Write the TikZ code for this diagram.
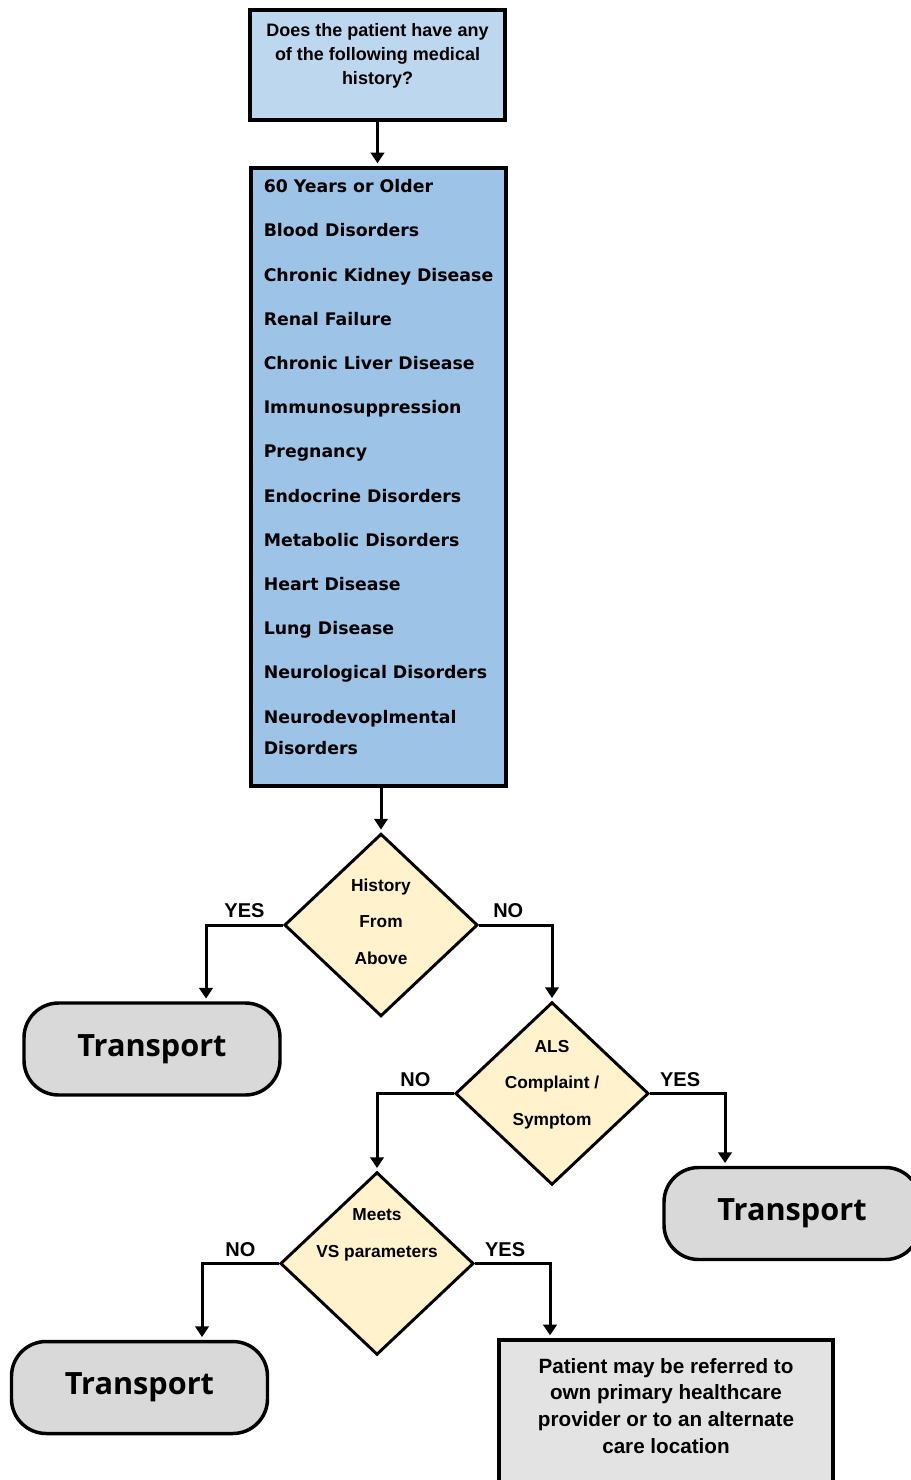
\documentclass[tikz,border=0pt]{standalone}
\usepackage{fontspec}
\setmainfont{Liberation Sans}
\newfontfamily\listfont{DejaVu Sans}
\newfontfamily\endfont{Open Sans}
\usetikzlibrary{positioning,shapes.geometric,arrows.meta}

\definecolor{qblue}{HTML}{BDD7EE}
\definecolor{listblue}{HTML}{9DC3E6}
\definecolor{decyellow}{HTML}{FFF2CC}
\definecolor{endgray}{HTML}{D9D9D9}
\definecolor{refgray}{HTML}{E3E3E3}

\begin{document}
\begin{tikzpicture}[x=0.75pt, y=-0.75pt,
question/.style = {draw, line width=3pt, fill=qblue, minimum width=191pt, inner ysep=0pt, text height=55.9pt, text depth=26.6pt, align=center, font=\fontsize{13.5pt}{18pt}\selectfont\bfseries},
history/.style = {draw, line width=3pt, fill=listblue, minimum width=191pt, inner ysep=0pt, text height=439.5pt, text depth=24pt, align=left, font=\listfont\fontsize{13pt}{33.15pt}\selectfont\bfseries},
decision/.style = {draw, shape = diamond, line width=2.2pt, fill=decyellow, minimum width=145pt, minimum height=137pt, inner sep=0pt},
dtext/.style = {align=center, inner sep=0pt, font=\fontsize{13pt}{27.4pt}\selectfont\bfseries},
terminal/.style = {draw, shape = rectangle, rounded corners=26pt, line width=2.6pt, fill=endgray, minimum width=192pt, minimum height=69pt, font=\endfont\fontsize{23pt}{28pt}\selectfont\bfseries},
referral/.style = {draw, line width=3pt, fill=refgray, minimum width=250pt, inner ysep=0pt, text height=84.75pt, text depth=60pt, align=center, font=\fontsize{15.5pt}{20pt}\selectfont\bfseries},
answer/.style = {inner sep=0pt, above=4pt, font=\fontsize{15pt}{18pt}\selectfont\bfseries},
flow/.style = {line width=2.25pt, -{Triangle[length=8pt,width=10pt]}, shorten >=2pt}
]
\useasboundingbox (0,0) rectangle (910,1480);

\node[question, anchor=north] (q) at (377.5,8) {Does the patient have any\\of the following medical\\history?};
\node[history, anchor=north] (list) at (378.5,166) {60 Years or Older\\Blood Disorders\\Chronic Kidney Disease\\Renal Failure\\Chronic Liver Disease\\Immunosuppression\\Pregnancy\\Endocrine Disorders\\Metabolic Disorders\\Heart Disease\\Lung Disease\\Neurological Disorders\\Neurodevoplmental\\[-10pt]Disorders};

\node[decision] (hist) at (381,925) {};
\node[dtext] (hist-txt) at ([yshift=2.6pt]hist.center) {History\\From\\Above};
\node[decision] (als) at (552,1093.5) {};
\node[dtext] (als-txt) at ([yshift=6.75pt]als.center) {ALS\\Complaint /\\Symptom};
\node[decision] (vs) at (377,1263.5) {};
\node[dtext] (vs-txt) at ([yshift=21.4pt]vs.center) {Meets\\VS parameters};

\node[terminal] (t1) at (152,1049) {Transport};
\node[terminal] (t2) at (792,1213.5) {Transport};
\node[terminal] (t3) at (139.5,1387.5) {Transport};
\node[referral, anchor=north] (refer) at (666,1338) {Patient may be referred to\\own primary healthcare\\provider or to an alternate\\care location};

\draw[flow] (q.south) -- (q.south |- list.north);
\draw[flow] (list.south -| hist.north) -- (hist.north);
\draw[flow] (hist.west) -| node[answer, pos=0.25] (yes1) {YES} ([xshift=40.5pt]t1.north);
\draw[flow] (hist.east) -| node[answer, pos=0.2] (no1) {NO} (als.north);
\draw[flow] (als.east) -| node[answer, pos=0.2] (yes2) {YES} ([xshift=-50.25pt]t2.north);
\draw[flow] (als.west) -| node[answer, pos=0.25] (no2) {NO} (vs.north);
\draw[flow] (vs.east) -| node[answer, pos=0.2] (yes3) {YES} ([xshift=-87pt]refer.north);
\draw[flow] (vs.west) -| node[answer, pos=0.25] (no3) {NO} ([xshift=46.9pt]t3.north);
\end{tikzpicture}
\end{document}
